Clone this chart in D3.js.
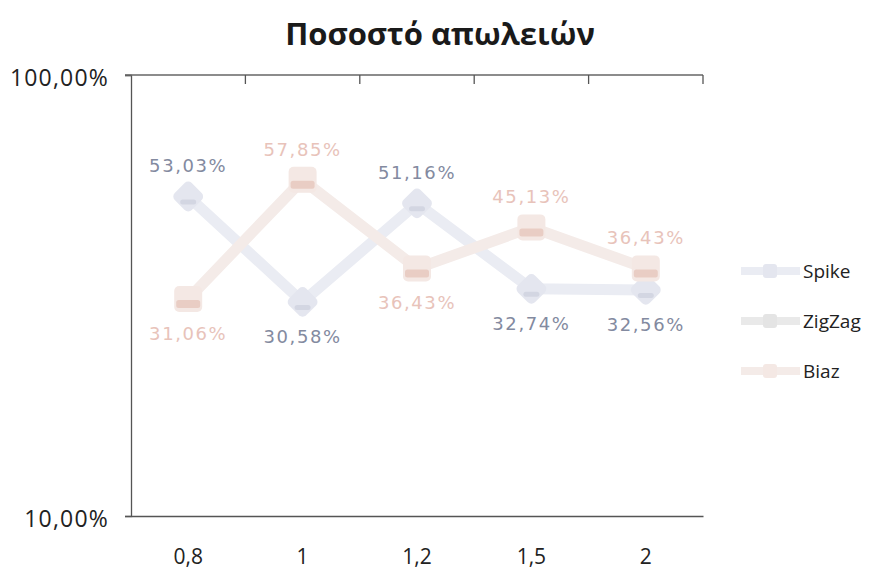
<!DOCTYPE html>
<html>
<head>
<meta charset="utf-8">
<script src="https://cdn.jsdelivr.net/npm/d3@7"></script>
<style>
  html, body { margin: 0; padding: 0; background: #fff; }
  svg { display: block; }
</style>
</head>
<body>
<svg id="chart" width="877" height="573"></svg>
<script>
// Loss rate per parameter setting, for each scheme
const categories = ["0,8", "1", "1,2", "1,5", "2"];
const spikeValues = [0.5303, 0.3058, 0.5116, 0.3274, 0.3256];
const zigzagValues = [];
const biazValues = [0.3106, 0.5785, 0.3643, 0.4513, 0.3643];
const yTicks = [0.1, 1];
const seriesNames = ["Spike", "ZigZag", "Biaz"];
// label above (-1) or below (+1) the marker
const spikeLabelSide = [-1, 1, -1, 1, 1];
const biazLabelSide = [1, -1, 1, -1, -1];

const svg = d3.select("#chart");
const m = { left: 131, right: 703, top: 75, bottom: 516 };

const x = d3.scaleBand().domain(categories).range([m.left, m.right]);
const y = d3.scaleLog().domain([0.1, 1]).range([m.bottom, m.top]);
const fmt = v => (v * 100).toFixed(2).replace(".", ",") + "%";

// title
svg.append("text")
  .attr("x", 440).attr("y", 45)
  .attr("text-anchor", "middle")
  .attr("font-family", "'Open Sans', sans-serif")
  .attr("font-weight", "bold")
  .attr("font-size", 31)
  .attr("fill", "#1a1a1a")
  .text("Ποσοστό απωλειών");

// left axis
const yAxis = d3.axisLeft(y).tickValues(yTicks).tickSize(6).tickFormat(fmt);
const gy = svg.append("g").attr("transform", `translate(${m.left},0)`).call(yAxis);
gy.select(".domain").attr("stroke", "#555").attr("stroke-width", 1.3);
gy.selectAll(".tick line").attr("stroke", "#555").attr("stroke-width", 1.3);
gy.selectAll(".tick text")
  .attr("font-family", "'Open Sans', sans-serif")
  .attr("font-size", 23)
  .attr("letter-spacing", 1.2)
  .attr("fill", "#222")
  .attr("x", -22)
  .attr("dy", "0.45em");

// bottom axis (category labels)
const xAxis = d3.axisBottom(x).tickSize(0).tickPadding(0);
const gx = svg.append("g").attr("transform", `translate(0,${m.bottom})`).call(xAxis);
gx.select(".domain").attr("stroke", "#555").attr("stroke-width", 1.3);
gx.selectAll(".tick text")
  .attr("font-family", "'Open Sans', sans-serif")
  .attr("font-size", 21)
  .attr("fill", "#222")
  .attr("dy", 0)
  .attr("y", 48);

// top border with band separators
const gt = svg.append("g").attr("transform", `translate(0,${m.top})`);
gt.append("line").attr("x1", m.left - 6).attr("x2", m.right)
  .attr("stroke", "#666").attr("stroke-width", 1.3);
const bounds = categories.map(c => x(c) + x.bandwidth());
gt.selectAll("line.sep").data(bounds).join("line").attr("class", "sep")
  .attr("x1", d => d).attr("x2", d => d).attr("y1", 0).attr("y2", 9)
  .attr("stroke", "#555").attr("stroke-width", 1.3);

const cx = c => x(c) + x.bandwidth() / 2;
const line = d3.line().x((d, i) => cx(categories[i])).y(d => y(d));

const series = [
  { name: "Spike", values: spikeValues, line: "#eaecf3", marker: "#e4e6ef", shade: "#d3d6e2", label: "#838aa0", side: spikeLabelSide, shape: "diamond" },
  { name: "ZigZag", values: zigzagValues, line: "#e9e9e9", marker: "#e4e4e4", shade: "#d8d8d8", label: "#aaa", side: [], shape: "square" },
  { name: "Biaz", values: biazValues, line: "#f4ebe8", marker: "#f4e8e4", shade: "#e9cdc4", label: "#e8c3ba", side: biazLabelSide, shape: "square" }
];

// lines
series.forEach(s => {
  if (!s.values.length) return;
  svg.append("path").datum(s.values)
    .attr("d", line)
    .attr("fill", "none")
    .attr("stroke", s.line)
    .attr("stroke-width", 11)
    .attr("stroke-linejoin", "round");
});

// markers
series.forEach(s => {
  const g = svg.append("g");
  s.values.forEach((v, i) => {
    const px = cx(categories[i]), py = y(v);
    if (s.shape === "diamond") {
      g.append("rect").attr("x", px - 12).attr("y", py - 12).attr("width", 24).attr("height", 24)
        .attr("rx", 5).attr("fill", s.marker)
        .attr("transform", `rotate(45,${px},${py})`);
      g.append("rect").attr("x", px - 8).attr("y", py + 3).attr("width", 16).attr("height", 5)
        .attr("fill", s.shade).attr("rx", 2.5);
    } else {
      g.append("rect").attr("x", px - 14).attr("y", py - 13).attr("width", 28).attr("height", 26)
        .attr("rx", 5).attr("fill", s.marker);
      g.append("rect").attr("x", px - 12).attr("y", py + 1).attr("width", 24).attr("height", 8)
        .attr("fill", s.shade).attr("rx", 2.5);
    }
  });
});

// value labels
series.forEach(s => {
  s.values.forEach((v, i) => {
    const px = cx(categories[i]), py = y(v);
    const side = s.side[i];
    svg.append("text")
      .attr("x", px)
      .attr("y", side < 0 ? py - 24 : py + 41)
      .attr("text-anchor", "middle")
      .attr("font-family", "'DejaVu Sans', sans-serif")
      .attr("font-size", 18)
      .attr("letter-spacing", 1.6)
      .attr("fill", s.label)
      .text(fmt(v));
  });
});

// legend
const lg = svg.append("g");
seriesNames.forEach((name, i) => {
  const s = series.find(d => d.name === name);
  const ly = 271 + i * 50;
  lg.append("line").attr("x1", 741).attr("x2", 800).attr("y1", ly).attr("y2", ly)
    .attr("stroke", s.line).attr("stroke-width", 8);
  lg.append("rect").attr("x", 763).attr("y", ly - 7).attr("width", 14).attr("height", 14)
    .attr("rx", 3).attr("fill", s.marker);
  lg.append("text").attr("x", 803).attr("y", ly + 7)
    .attr("font-family", "'Open Sans', sans-serif")
    .attr("font-size", 19)
    .attr("fill", "#222")
    .text(name);
});
</script>
</body>
</html>
